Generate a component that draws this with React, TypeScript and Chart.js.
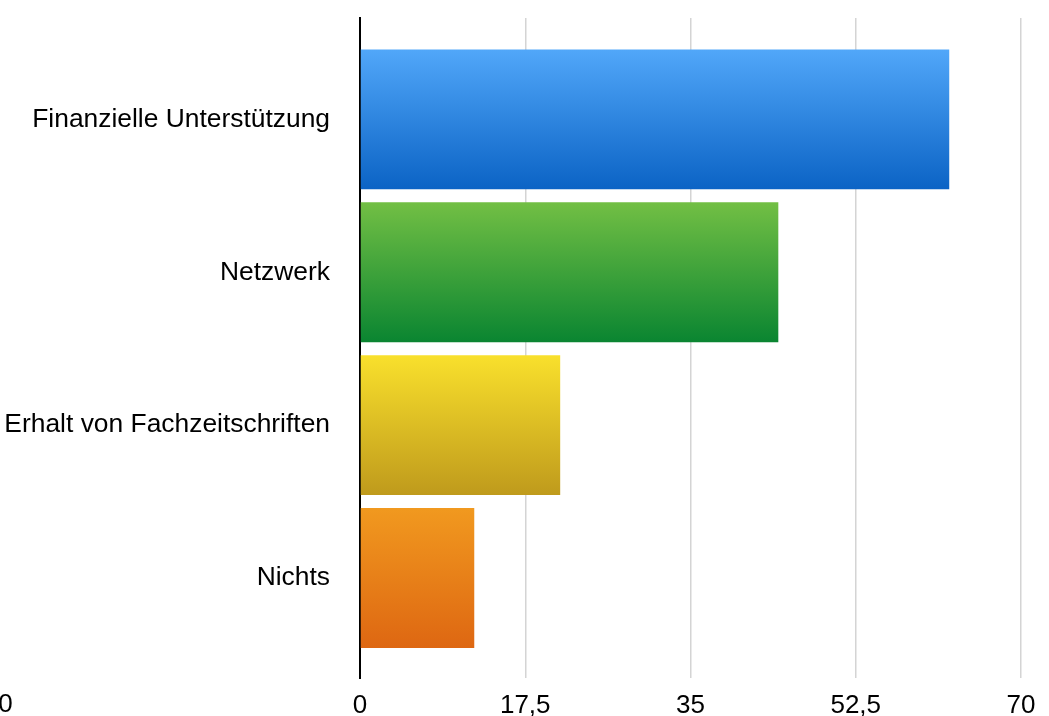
import React, { useEffect, useRef } from "react";
import { Chart, registerables } from "chart.js";

Chart.register(...registerables);

const categories = [
  "Finanzielle Unterstützung",
  "Netzwerk",
  "Erhalt von Fachzeitschriften",
  "Nichts",
];
const values = [62.4, 44.3, 21.2, 12.1];
const gradientTops = ["#51a7f9", "#72bf44", "#f9e02c", "#f1991f"];
const gradientBottoms = ["#0b63c5", "#0a8531", "#bf9a1c", "#de6712"];
const xTicks = [0, 17.5, 35, 52.5, 70];
const strayLabel = "0";

const FONT = '"Liberation Sans", Arial, Helvetica, sans-serif';
const BAR_PCT = 0.915;

export default function App() {
  const canvasRef = useRef<HTMLCanvasElement | null>(null);

  useEffect(() => {
    document.body.style.margin = "0";
    const canvas = canvasRef.current;
    if (!canvas) return;

    const strayPlugin = {
      id: "strayLabel",
      afterDraw(chart: any) {
        const ctx = chart.ctx;
        ctx.save();
        ctx.font = `26px ${FONT}`;
        ctx.fillStyle = "#000";
        ctx.textAlign = "center";
        ctx.textBaseline = "middle";
        ctx.fillText(strayLabel, 5.5, 705);
        ctx.restore();
      },
    };

    const chart = new Chart(canvas, {
      type: "bar",
      data: {
        datasets: [
          {
            data: values.map((v, i) => ({ x: v, y: i })) as any,
            backgroundColor: (c: any) => {
              const chart = c.chart;
              const i = c.dataIndex ?? 0;
              const ys = chart.scales?.y;
              if (!ys) return gradientTops[i];
              const center = ys.getPixelForValue(i);
              const step = Math.abs(ys.getPixelForValue(i + 1) - center);
              const half = (step * BAR_PCT) / 2;
              if (!isFinite(center) || !isFinite(half) || half <= 0) return gradientTops[i];
              const g = chart.ctx.createLinearGradient(0, center - half, 0, center + half);
              g.addColorStop(0, gradientTops[i]);
              g.addColorStop(1, gradientBottoms[i]);
              return g;
            },
            borderWidth: 0,
            barPercentage: BAR_PCT,
            categoryPercentage: 1,
          },
        ],
      },
      options: {
        indexAxis: "y",
        animation: false,
        responsive: true,
        maintainAspectRatio: false,
        layout: { padding: { top: 18, right: 28, bottom: 0, left: 0 } },
        plugins: {
          legend: { display: false },
          tooltip: { enabled: false },
        },
        scales: {
          x: {
            type: "linear",
            min: 0,
            max: 70,
            offset: false,
            afterBuildTicks: (scale: any) => {
              scale.ticks = xTicks.map((v) => ({ value: v }));
            },
            afterFit: (scale: any) => {
              scale.height = 38;
            },
            ticks: {
              color: "#000",
              font: { family: FONT, size: 26 },
              padding: 12,
              maxRotation: 0,
              autoSkip: false,
              callback: (v: any) => String(v).replace(".", ","),
            },
            grid: {
              color: "#d4d4d4",
              lineWidth: 1.5,
              drawTicks: false,
            },
            border: { display: false },
          },
          y: {
            type: "linear",
            reverse: true,
            offset: false,
            min: -0.663,
            max: 3.654,
            afterBuildTicks: (scale: any) => {
              scale.ticks = categories.map((_, i) => ({ value: i }));
            },
            afterFit: (scale: any) => {
              scale.width = 360;
              scale.paddingTop = 0;
              scale.paddingBottom = 0;
            },
            ticks: {
              color: "#000",
              font: { family: FONT, size: 26.4 },
              padding: 30,
              autoSkip: false,
              callback: (v: any) => categories[v] ?? "",
            },
            grid: { display: false, drawTicks: false, offset: false },
            border: { display: true, color: "#000", width: 2 },
          },
        },
      },
      plugins: [strayPlugin],
    } as any);

    return () => chart.destroy();
  }, []);

  return (
    <div style={{ position: "relative", width: "1049px", height: "716px" }}>
      <canvas ref={canvasRef} />
    </div>
  );
}
